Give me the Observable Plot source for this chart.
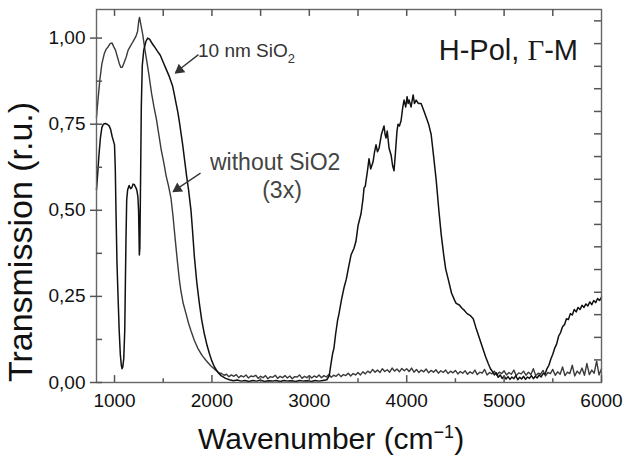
<!DOCTYPE html>
<html><head><meta charset="utf-8">
<script src="https://cdn.jsdelivr.net/npm/d3@7"></script>
<script src="https://cdn.jsdelivr.net/npm/@observablehq/plot@0.6"></script>
<style>
body{margin:0;background:#fff;}
svg{font-family:"Liberation Sans",Arial,sans-serif;}
</style>
</head><body><div id="chart"></div>
<script>
// ---- data (wavenumber cm^-1, transmission r.u.) ----
// "without SiO2 (3x)" – smooth part
const withoutMain = [[815,0.77],[830,0.82],[850,0.88],[870,0.925],[895,0.955],[915,0.968],[935,0.975],[955,0.984],[975,0.986],[990,0.976],[1010,0.965],[1030,0.945],[1050,0.925],[1065,0.915],[1080,0.915],[1100,0.93],[1120,0.945],[1140,0.965],[1160,0.975],[1180,0.985],[1200,0.995],[1220,1.005],[1237,1.02],[1250,1.052],[1257,1.06],[1270,1.04],[1290,1.01],[1310,0.97],[1330,0.935],[1355,0.89],[1380,0.84],[1405,0.8],[1430,0.765],[1455,0.72],[1480,0.675],[1505,0.64],[1530,0.6],[1555,0.57],[1580,0.535],[1600,0.485],[1615,0.44],[1632,0.39],[1648,0.345],[1665,0.3],[1682,0.265],[1705,0.23],[1734,0.2],[1760,0.172],[1785,0.15],[1820,0.122],[1854,0.1],[1900,0.078],[1940,0.064],[1990,0.048],[2042,0.035],[2075,0.028]];
// "without SiO2 (3x)" – noisy tail, sampled every 25 cm^-1 from 2100
const withoutTailStart = 2100, withoutTailStep = 25;
const withoutTail = [0.026,0.021,0.024,0.017,0.022,0.018,0.023,0.014,0.02,0.016,0.022,0.013,0.019,0.017,0.021,0.012,
0.018,0.014,0.02,0.011,0.017,0.015,0.021,0.012,0.018,0.014,0.02,0.013,0.019,0.011,0.017,0.016,0.022,0.012,0.018,0.014,
0.02,0.013,0.019,0.015,0.022,0.014,0.02,0.016,0.023,0.015,0.021,0.018,0.025,0.017,0.023,0.02,0.027,0.019,0.026,0.022,
0.029,0.022,0.031,0.025,0.033,0.028,0.038,0.03,0.036,0.029,0.04,0.032,0.037,0.03,0.042,0.033,0.039,0.031,0.041,0.034,
0.04,0.032,0.042,0.03,0.038,0.029,0.036,0.031,0.039,0.028,0.035,0.03,0.037,0.027,0.034,0.029,0.036,0.026,0.033,0.028,
0.035,0.025,0.032,0.027,0.034,0.024,0.031,0.026,0.036,0.023,0.03,0.027,0.038,0.022,0.029,0.025,0.033,0.021,0.03,0.026,
0.034,0.022,0.029,0.024,0.036,0.02,0.028,0.025,0.033,0.021,0.03,0.023,0.04,0.02,0.027,0.024,0.035,0.019,0.029,0.026,
0.038,0.021,0.031,0.024,0.045,0.02,0.03,0.026,0.05,0.019,0.033,0.025,0.042,0.021,0.055,0.023,0.036,0.027,0.062,0.022,0.04];

// "10 nm SiO2" – low wavenumber part
const nm10Low = [[815,0.56],[828,0.61],[840,0.66],[855,0.71],[870,0.74],[885,0.75],[905,0.752],[925,0.75],[945,0.745],[960,0.735],[975,0.715],[990,0.7],[1000,0.69],[1008,0.62],[1015,0.5],[1025,0.35],[1035,0.26],[1048,0.15],[1060,0.08],[1070,0.05],[1077,0.04],[1085,0.045],[1095,0.07],[1105,0.15],[1112,0.3],[1118,0.42],[1125,0.53],[1135,0.56],[1150,0.572],[1165,0.563],[1178,0.566],[1190,0.576],[1202,0.575],[1215,0.568],[1228,0.56],[1240,0.54],[1247,0.5],[1252,0.42],[1255,0.37],[1260,0.39],[1268,0.6],[1275,0.8],[1285,0.92],[1300,0.965],[1322,0.99],[1340,1.0],[1360,0.997],[1385,0.985],[1410,0.975],[1440,0.962],[1470,0.95],[1500,0.93],[1530,0.91],[1563,0.888],[1597,0.86],[1615,0.835],[1631,0.812],[1650,0.785],[1666,0.757],[1685,0.72],[1700,0.69],[1720,0.645],[1740,0.6],[1760,0.56],[1785,0.5],[1800,0.445],[1820,0.365],[1845,0.29],[1871,0.23],[1895,0.182],[1923,0.14],[1950,0.108],[1974,0.084],[2000,0.062],[2026,0.045],[2060,0.03],[2094,0.02],[2140,0.012],[2180,0.008]];
// "10 nm SiO2" – flat baseline
const nm10Base = [[2220,0.005],[2260,0.007],[2300,0.004],[2340,0.006],[2380,0.003],[2420,0.006],[2460,0.004],[2500,0.007],[2540,0.003],[2580,0.005],[2620,0.004],[2660,0.006],[2700,0.003],[2740,0.006],[2780,0.004],[2820,0.005],[2860,0.003],[2900,0.006],[2940,0.004],[2980,0.005],[3020,0.003],[3060,0.006],[3100,0.004],[3140,0.006],[3180,0.008]];
// "10 nm SiO2" – band around 4000
const nm10Band = [[3205,0.02],[3220,0.05],[3240,0.085],[3253,0.1],[3270,0.14],[3290,0.18],[3305,0.2],[3330,0.24],[3356,0.275],[3380,0.3],[3400,0.33],[3428,0.37],[3459,0.39],[3479,0.41],[3500,0.455],[3531,0.49],[3550,0.53],[3562,0.565],[3575,0.57],[3582,0.585],[3595,0.61],[3613,0.65],[3630,0.62],[3654,0.64],[3670,0.67],[3685,0.69],[3700,0.67],[3716,0.68],[3740,0.72],[3767,0.745],[3778,0.72],[3788,0.71],[3800,0.73],[3819,0.68],[3840,0.66],[3855,0.63],[3870,0.615],[3885,0.67],[3900,0.73],[3911,0.75],[3925,0.745],[3942,0.76],[3960,0.8],[3973,0.82],[3990,0.8],[4004,0.83],[4015,0.81],[4025,0.82],[4045,0.8],[4066,0.835],[4080,0.81],[4097,0.82],[4120,0.81],[4148,0.81],[4175,0.79],[4200,0.77],[4225,0.75],[4251,0.72],[4275,0.66],[4302,0.59],[4330,0.5],[4354,0.43],[4380,0.37],[4400,0.33],[4426,0.3],[4460,0.26],[4490,0.24],[4508,0.23],[4540,0.225],[4570,0.215],[4590,0.21],[4620,0.2],[4650,0.195],[4683,0.185],[4710,0.16],[4745,0.13],[4780,0.1],[4810,0.075],[4837,0.055],[4860,0.04]];
// "10 nm SiO2" – high wavenumber part, sampled every 20 cm^-1 from 4880
const nm10HighStart = 4880, nm10HighStep = 20;
const nm10High = [0.032,0.022,0.028,0.015,0.022,0.012,0.018,0.01,0.017,0.009,0.016,0.011,0.02,0.008,0.015,0.01,0.018,0.009,0.016,0.012,0.02,0.011,0.018,0.013,0.022,0.016,0.026,0.025,0.04,0.05,0.068,0.082,0.1,0.112,0.135,0.145,0.162,0.168,0.185,0.183,0.2,0.196,0.212,0.205,0.218,0.212,0.224,0.218,0.228,0.222,0.234,0.226,0.238,0.232,0.244,0.238,0.248];

// axes
const xTickValues = [1000,2000,3000,4000,5000,6000];
const xMinorValues = [1500,2500,3500,4500,5500];
const xTopValues = [1000,1500,2000,2500,3000,3500,4000,4500,5000,5500];
const yTickValues = [0,0.25,0.5,0.75,1];
const yMinorValues = [0.125,0.375,0.625,0.875];
const yRightValues = [0.0656,0.131,0.197,0.262,0.328,0.394,0.459,0.525,0.59,0.656,0.722,0.787,0.853,0.918,0.984,1.05];

// annotations
const arrowLines = [
  {x1:1862, y1:0.952, x2:1626, y2:0.900},
  {x1:1883, y1:0.608, x2:1602, y2:0.555}
];
const arrowHeads = [
  {x:1668, y:0.9075, rot:232},
  {x:1647, y:0.5626, rot:236.6}
];

// ---- build series ----
const seriesWithout = withoutMain.map(([x,y])=>({x,y}))
  .concat(withoutTail.map((y,i)=>({x: withoutTailStart + i*withoutTailStep, y})));
const series10 = nm10Low.concat(nm10Base, nm10Band).map(([x,y])=>({x,y}))
  .concat(nm10High.map((y,i)=>({x: nm10HighStart + i*nm10HighStep, y})));

const fmt = d => d.toFixed(2).replace(".", ",");
const axisCol = "#555";
const xDom = [815, 6000], yDom = [0, 1.083];
// tick lengths expressed in data units (~7 px vertical, ~6 px horizontal)
const tyLen = 0.02, tyMinor = 0.011, txLen = 62, txRight = 72;

const plot = Plot.plot({
  width: 627, height: 458,
  marginLeft: 96, marginRight: 26, marginTop: 9, marginBottom: 76,
  x: {domain: xDom, label: null},
  y: {domain: yDom, label: null},
  style: {fontFamily: "Liberation Sans, Arial, sans-serif", background: "#fff", color: "#111"},
  marks: [
    Plot.line(seriesWithout, {x:"x", y:"y", stroke:"#3a3a3a", strokeWidth:1.4}),
    Plot.line(series10, {x:"x", y:"y", stroke:"#111", strokeWidth:1.5}),
    Plot.frame({stroke: "#666", strokeWidth: 1.4}),
    // tick marks
    Plot.ruleX(xTickValues, {x: d => d, y1: () => yDom[0], y2: () => yDom[0] + tyLen, stroke: axisCol, strokeWidth: 1.5}),
    Plot.ruleX(xMinorValues, {x: d => d, y1: () => yDom[0], y2: () => yDom[0] + tyMinor, stroke: axisCol, strokeWidth: 1.5}),
    Plot.ruleX(xTopValues, {x: d => d, y1: () => yDom[1], y2: () => yDom[1] - tyLen, stroke: axisCol, strokeWidth: 1.5}),
    Plot.ruleY(yTickValues, {y: d => d, x1: () => xDom[0] - txLen, x2: () => xDom[0] + txLen, stroke: axisCol, strokeWidth: 1.5}),
    Plot.ruleY(yMinorValues, {y: d => d, x1: () => xDom[0], x2: () => xDom[0] + txLen, stroke: axisCol, strokeWidth: 1.5}),
    Plot.ruleY(yRightValues, {y: d => d, x1: () => xDom[1] - txRight, x2: () => xDom[1], stroke: axisCol, strokeWidth: 1.5}),
    Plot.axisX(xTickValues, {anchor:"bottom", tickSize:0, tickPadding:11, tickFormat: d => String(d), fontSize:19, fill:"#111", label:null}),
    Plot.axisY(yTickValues, {anchor:"left", tickSize:0, tickPadding:11, tickFormat:fmt, fontSize:19, fill:"#111", label:null}),
    // arrows
    Plot.link(arrowLines, {x1:"x1", y1:"y1", x2:"x2", y2:"y2", stroke:"#333", strokeWidth:1.3}),
    Plot.dot(arrowHeads, {x:"x", y:"y", symbol:"triangle", r:4, rotate:"rot", fill:"#333", stroke:"none"})
  ]
});

const svg = d3.select(plot);
// x axis title
const xt = svg.append("text").attr("x", 198).attr("y", 449).attr("text-anchor", "start")
  .attr("font-size", 30).attr("fill", "#111");
xt.append("tspan").text("Wavenumber (cm");
xt.append("tspan").attr("font-size", 18).attr("dy", -11).text("−1");
xt.append("tspan").attr("dy", 11).text(")");
// y axis title
svg.append("text").attr("transform", "translate(32,242) rotate(-90)")
  .attr("text-anchor", "middle").attr("font-size", 34).attr("fill", "#111")
  .text("Transmission (r.u.)");
// panel label
const hp = svg.append("text").attr("x", 578).attr("y", 60).attr("text-anchor", "end")
  .attr("font-size", 29).attr("fill", "#1a1a1a");
hp.append("tspan").text("H-Pol, ");
hp.append("tspan").attr("font-family", "Liberation Serif, Times New Roman, serif").text("Γ");
hp.append("tspan").text("-M");
// annotations
const a1 = svg.append("text").attr("x", 198).attr("y", 57).attr("text-anchor", "start").attr("font-size", 19).attr("fill", "#333");
a1.append("tspan").text("10 nm SiO");
a1.append("tspan").attr("font-size", 13).attr("dy", 6).text("2");
svg.append("text").attr("x", 210).attr("y", 170).attr("text-anchor", "start").attr("font-size", 23).attr("fill", "#444").text("without SiO2");
svg.append("text").attr("x", 282).attr("y", 198).attr("text-anchor", "middle").attr("font-size", 23).attr("fill", "#444").text("(3x)");

document.getElementById("chart").appendChild(plot);
</script>
</body></html>
